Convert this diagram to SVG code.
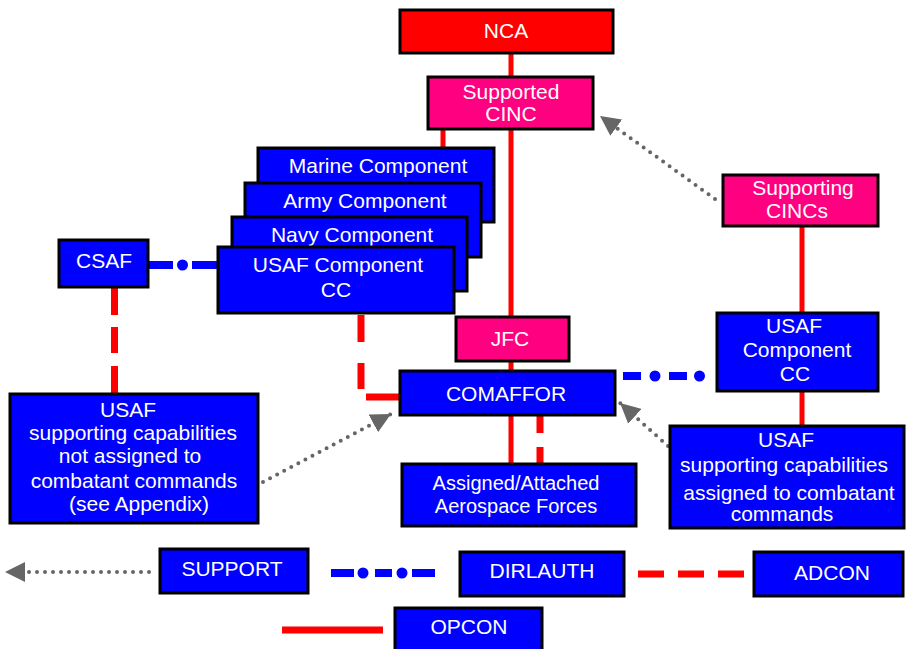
<svg xmlns="http://www.w3.org/2000/svg" width="906" height="649" viewBox="0 0 906 649">
<style>
.b{fill:#0000ff;stroke:#000;stroke-width:3}
.p{fill:#ff0080;stroke:#000;stroke-width:3}
.r{fill:#ff0000;stroke:#000;stroke-width:3}
text{font-family:"Liberation Sans",Arial,sans-serif;font-size:21px;fill:#fff;text-anchor:middle}
.sol{stroke:#ff0000;stroke-width:5;fill:none}
.dr{stroke:#ff0000;stroke-width:7;fill:none}
.db{stroke:#0000ff;stroke-width:8;fill:none}
.dot{fill:#0000ff}
.gr{stroke:#666;stroke-width:4;stroke-linecap:round;stroke-dasharray:0 8;fill:none;marker-end:url(#ah)}
</style>
<defs>
<marker id="ah" markerUnits="userSpaceOnUse" markerWidth="20" markerHeight="20" refX="18" refY="9" orient="auto" viewBox="0 0 18 18">
<path d="M0,0 L18,9 L0,18 z" fill="#666"/>
</marker>
</defs>
<g id="connectors">
<line class="sol" x1="511" y1="53" x2="511" y2="318"/>
<line class="sol" x1="443" y1="128" x2="443" y2="149"/>
<line class="sol" x1="511" y1="361" x2="511" y2="372"/>
<line class="sol" x1="511" y1="415" x2="511" y2="465"/>
<line class="dr" x1="540" y1="415" x2="540" y2="433"/>
<line class="dr" x1="540" y1="447" x2="540" y2="465"/>
<line class="sol" x1="802" y1="226" x2="802" y2="313"/>
<line class="sol" x1="802" y1="391" x2="802" y2="427"/>
<line class="dr" x1="361" y1="315" x2="361" y2="342"/>
<line class="dr" x1="361" y1="363" x2="361" y2="389"/>
<line class="dr" x1="366" y1="397" x2="399" y2="397"/>
<line class="dr" x1="114.5" y1="287" x2="114.5" y2="315"/>
<line class="dr" x1="114.5" y1="327" x2="114.5" y2="353"/>
<line class="dr" x1="114.5" y1="366" x2="114.5" y2="394"/>
<line class="db" x1="148" y1="265" x2="173" y2="265"/>
<circle class="dot" cx="182.5" cy="265" r="5.5"/>
<line class="db" x1="192" y1="265" x2="219" y2="265"/>
<line class="db" x1="623" y1="376" x2="641" y2="376"/>
<circle class="dot" cx="655" cy="376" r="5.5"/>
<line class="db" x1="669" y1="376" x2="687" y2="376"/>
<circle class="dot" cx="699.5" cy="376" r="5.5"/>
<path class="gr" d="M715,199 L600,116"/>
<path class="gr" d="M668,446 L620,403"/>
<path class="gr" d="M263,482 L391,414"/>
<path class="gr" d="M149,572 L5,572"/>
<line class="db" x1="331" y1="573" x2="354" y2="573"/>
<circle class="dot" cx="363" cy="573" r="5.5"/>
<line class="db" x1="375" y1="573" x2="392" y2="573"/>
<circle class="dot" cx="402" cy="573" r="5.5"/>
<line class="db" x1="412" y1="573" x2="435" y2="573"/>
<line class="dr" x1="638" y1="574" x2="664" y2="574"/>
<line class="dr" x1="678" y1="574" x2="704" y2="574"/>
<line class="dr" x1="718" y1="574" x2="744" y2="574"/>
<line class="sol" x1="282" y1="630" x2="383" y2="630" style="stroke-width:7"/>
</g>
<g id="nca"><rect class="r" x="400" y="10" width="213" height="43"/><text x="506" y="38">NCA</text></g>
<g id="supported-cinc"><rect class="p" x="428" y="77" width="165" height="52"/><text x="511" y="99">Supported</text><text x="511" y="121">CINC</text></g>
<g id="supporting-cincs"><rect class="p" x="723" y="175" width="155" height="51"/><text x="803" y="195">Supporting</text><text x="797" y="218">CINCs</text></g>
<g id="marine"><rect class="b" x="258" y="148" width="236" height="74"/><text x="378" y="173">Marine Component</text></g>
<g id="army"><rect class="b" x="245" y="183" width="236" height="74"/><text x="365" y="208">Army Component</text></g>
<g id="navy"><rect class="b" x="232" y="217" width="235" height="74"/><text x="352" y="242">Navy Component</text></g>
<g id="usaf-cc-left"><rect class="b" x="218" y="247" width="236" height="66"/><text x="338" y="272">USAF Component</text><text x="336" y="297">CC</text></g>
<g id="csaf"><rect class="b" x="59" y="240" width="89" height="47"/><text x="104" y="268">CSAF</text></g>
<g id="jfc"><rect class="p" x="456" y="317" width="113" height="44"/><text x="510" y="346">JFC</text></g>
<g id="comaffor"><rect class="b" x="400" y="371" width="215" height="44"/><text x="506" y="401">COMAFFOR</text></g>
<g id="usaf-cc-right"><rect class="b" x="717" y="313" width="161" height="78"/><text x="794" y="333">USAF</text><text x="797" y="357">Component</text><text x="795" y="381">CC</text></g>
<g id="usaf-not-assigned"><rect class="b" x="10" y="394" width="248" height="129"/><text x="128" y="417">USAF</text><text x="133" y="440">supporting capabilities</text><text x="130" y="463">not assigned to</text><text x="134" y="488">combatant commands</text><text x="139" y="511">(see Appendix)</text></g>
<g id="assigned-attached"><rect class="b" x="402" y="464" width="234" height="62"/><text x="516" y="490" style="font-size:20px">Assigned/Attached</text><text x="516" y="513" style="font-size:20px">Aerospace Forces</text></g>
<g id="usaf-assigned"><rect class="b" x="670" y="426" width="234" height="102"/><text x="786" y="447">USAF</text><text x="784" y="472">supporting capabilities</text><text x="789" y="500">assigned to combatant</text><text x="782" y="521">commands</text></g>
<g id="support"><rect class="b" x="160" y="549" width="148" height="44"/><text x="232" y="576">SUPPORT</text></g>
<g id="dirlauth"><rect class="b" x="460" y="552" width="164" height="44"/><text x="542" y="578">DIRLAUTH</text></g>
<g id="adcon"><rect class="b" x="754" y="552" width="149" height="44"/><text x="832" y="580">ADCON</text></g>
<g id="opcon"><rect class="b" x="395" y="608" width="147" height="44"/><text x="469" y="634">OPCON</text></g>
</svg>
